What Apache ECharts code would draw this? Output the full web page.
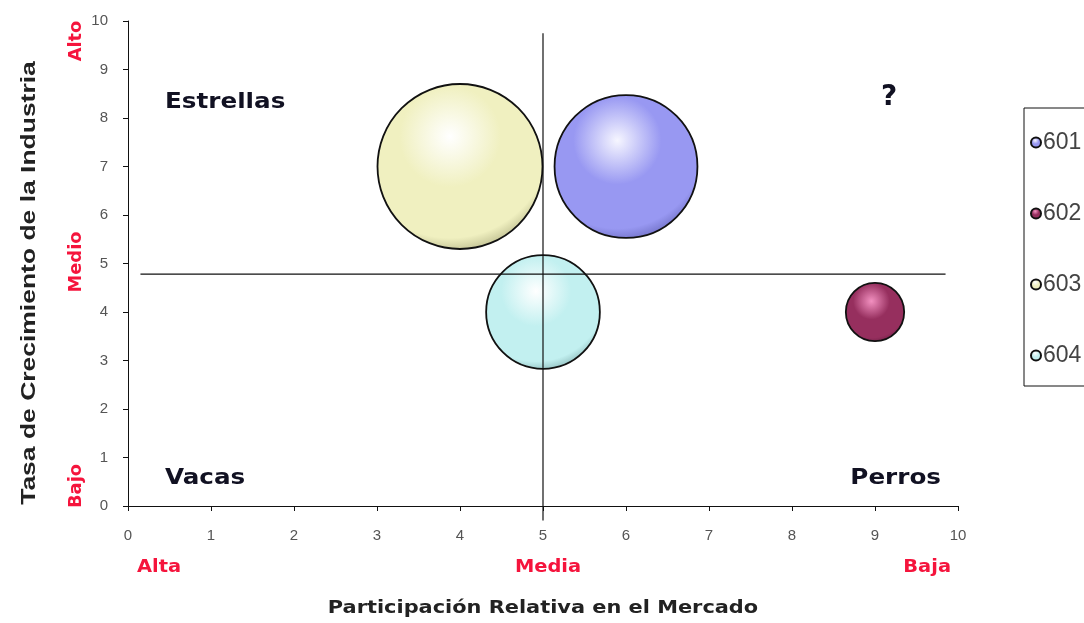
<!DOCTYPE html>
<html>
<head>
<meta charset="utf-8">
<script src="https://cdn.jsdelivr.net/npm/echarts@6/dist/echarts.min.js"></script>
<style>
  html, body { margin: 0; padding: 0; background: #ffffff; }
  #chart { width: 1084px; height: 623px; }
</style>
</head>
<body>
<div id="chart"></div>
<script>
// Portfolio matrix: relative market share (x) vs. industry growth (y), bubble = size
var seriesNames = ['601', '602', '603', '604'];
var shareValues = [6, 9, 4, 5];
var growthValues = [7, 4, 7, 4];
var bubbleSizes = [30, 5, 40, 19];

// Quadrant divider positions (in axis units)
var dividerX = 5;
var dividerY = 4.78;
var dividerXSpan = [-0.3, 9.75];
var dividerYSpan = [0.15, 9.85];

var xTicks = [0, 1, 2, 3, 4, 5, 6, 7, 8, 9, 10];
var yTicks = [0, 1, 2, 3, 4, 5, 6, 7, 8, 9, 10];

var quadrantNames = ['Estrellas', '?', 'Vacas', 'Perros'];
var shareLevels = ['Alta', 'Media', 'Baja'];
var growthLevels = ['Alto', 'Medio', 'Bajo'];

var xTitle = 'Participación Relativa en el Mercado';
var yTitle = 'Tasa de Crecimiento de la Industria';

// Shading for the glossy bubbles: highlight, body, rim
var palette = [
  ['#f6f6ff', '#9898f2', '#4a4a9c'],
  ['#f290c0', '#962f5e', '#4a1030'],
  ['#ffffff', '#f0f0c0', '#8a8a5e'],
  ['#ffffff', '#c2f0f0', '#5c8a8a']
];

function bubbleFill(p) {
  return {
    type: 'radial', x: 0.44, y: 0.32, r: 0.8,
    colorStops: [
      { offset: 0, color: p[0] },
      { offset: 0.38, color: p[1] },
      { offset: 0.76, color: p[1] },
      { offset: 1, color: p[2] }
    ]
  };
}

var chart = echarts.init(document.getElementById('chart'), null, { renderer: 'canvas' });

var series = seriesNames.map(function (name, i) {
  return {
    name: name,
    type: 'scatter',
    z: 2,
    data: [[shareValues[i], growthValues[i], bubbleSizes[i]]],
    symbolSize: function (v) { return 165 * Math.sqrt(v[2] / 40); },
    itemStyle: {
      color: bubbleFill(palette[i]),
      borderColor: '#111',
      borderWidth: 1.8,
      opacity: 1
    },
    emphasis: { disabled: true }
  };
});

series.push({
  name: 'divV',
  type: 'line',
  z: 5,
  clip: false,
  showSymbol: false,
  silent: true,
  lineStyle: { color: '#111', width: 1.2 },
  data: [[dividerX, dividerXSpan[0]], [dividerX, dividerXSpan[1]]]
});
series.push({
  name: 'divH',
  type: 'line',
  z: 5,
  clip: false,
  showSymbol: false,
  silent: true,
  lineStyle: { color: '#111', width: 1.2 },
  data: [[dividerYSpan[0], dividerY], [dividerYSpan[1], dividerY]]
});

var red = '#f5143c';
var ink = '#111122';
var labelFont = 'bold 18px "DejaVu Sans", Verdana, sans-serif';
var quadFont = 'bold 22px "DejaVu Sans", Verdana, sans-serif';

function txt(opts, style) {
  var base = { type: 'text', scaleX: 1, scaleY: 1 };
  for (var k in opts) base[k] = opts[k];
  base.style = style;
  return base;
}

var graphics = [
  txt({ x: 165, y: 102, scaleX: 1.12 }, { text: quadrantNames[0], font: quadFont, fill: ink, textAlign: 'left', textVerticalAlign: 'middle' }),
  txt({ x: 889, y: 98 }, { text: quadrantNames[1], font: 'bold 28px "DejaVu Sans", sans-serif', fill: ink, textAlign: 'center', textVerticalAlign: 'middle' }),
  txt({ x: 165, y: 478, scaleX: 1.12 }, { text: quadrantNames[2], font: quadFont, fill: ink, textAlign: 'left', textVerticalAlign: 'middle' }),
  txt({ x: 941, y: 478, scaleX: 1.12 }, { text: quadrantNames[3], font: quadFont, fill: ink, textAlign: 'right', textVerticalAlign: 'middle' }),

  txt({ x: 137, y: 567, scaleX: 1.08 }, { text: shareLevels[0], font: labelFont, fill: red, textAlign: 'left', textVerticalAlign: 'middle' }),
  txt({ x: 548, y: 567, scaleX: 1.08 }, { text: shareLevels[1], font: labelFont, fill: red, textAlign: 'center', textVerticalAlign: 'middle' }),
  txt({ x: 951, y: 567, scaleX: 1.08 }, { text: shareLevels[2], font: labelFont, fill: red, textAlign: 'right', textVerticalAlign: 'middle' }),

  txt({ x: 77, y: 41, rotation: Math.PI / 2, scaleX: 1.05 }, { text: growthLevels[0], font: 'bold 17px "DejaVu Sans", sans-serif', fill: red, textAlign: 'center', textVerticalAlign: 'middle' }),
  txt({ x: 77, y: 262, rotation: Math.PI / 2, scaleX: 1.05 }, { text: growthLevels[1], font: 'bold 17px "DejaVu Sans", sans-serif', fill: red, textAlign: 'center', textVerticalAlign: 'middle' }),
  txt({ x: 77, y: 486, rotation: Math.PI / 2, scaleX: 1.05 }, { text: growthLevels[2], font: 'bold 17px "DejaVu Sans", sans-serif', fill: red, textAlign: 'center', textVerticalAlign: 'middle' }),

  txt({ x: 543, y: 608, scaleX: 1.16 }, { text: xTitle, font: 'bold 18px "DejaVu Sans", sans-serif', fill: '#222', textAlign: 'center', textVerticalAlign: 'middle' }),
  txt({ x: 29, y: 283, rotation: Math.PI / 2, scaleX: 1.26 }, { text: yTitle, font: 'bold 21px "Liberation Sans", Arial, sans-serif', fill: '#222', textAlign: 'center', textVerticalAlign: 'middle' })
];

chart.setOption({
  backgroundColor: '#ffffff',
  animation: false,
  grid: { left: 128, right: 126, top: 21, bottom: 117, containLabel: false },
  xAxis: {
    type: 'value', min: xTicks[0], max: xTicks[xTicks.length - 1], interval: 1,
    axisLine: { show: true, onZero: false, lineStyle: { color: '#111', width: 1 } },
    axisTick: { show: true, length: 5, lineStyle: { color: '#111' } },
    axisLabel: { margin: 22, color: '#555', fontSize: 15, fontFamily: '"Liberation Sans", Arial, sans-serif' },
    splitLine: { show: false }
  },
  yAxis: {
    type: 'value', min: yTicks[0], max: yTicks[yTicks.length - 1], interval: 1,
    axisLine: { show: true, onZero: false, lineStyle: { color: '#111', width: 1 } },
    axisTick: { show: true, length: 5, lineStyle: { color: '#111' } },
    axisLabel: { margin: 20, color: '#555', fontSize: 15, fontFamily: '"Liberation Sans", Arial, sans-serif' },
    splitLine: { show: false }
  },
  legend: {
    data: seriesNames,
    orient: 'vertical',
    left: 1024,
    top: 108,
    padding: [23, 40, 19, 6],
    itemGap: 48,
    itemWidth: 10,
    itemHeight: 10,
    icon: 'circle',
    borderColor: '#111',
    borderWidth: 1,
    textStyle: { color: '#444', fontSize: 23, fontFamily: '"Liberation Sans", Arial, sans-serif', padding: [0, 0, 0, -3] },
    selectedMode: false
  },
  graphic: graphics,
  series: series
});
</script>
</body>
</html>
